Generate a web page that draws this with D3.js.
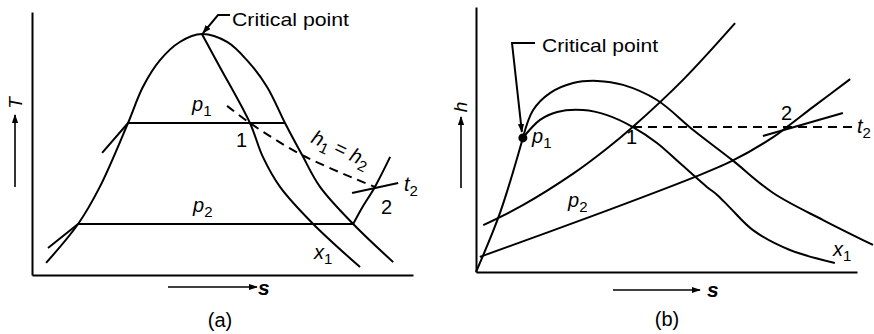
<!DOCTYPE html>
<html>
<head>
<meta charset="utf-8">
<script src="https://cdn.jsdelivr.net/npm/d3@7"></script>
<style>
  body { margin: 0; background: #fff; }
  svg { display: block; }
  text { font-family: "Liberation Sans", Arial, sans-serif; fill: #000; }
  .curve { fill: none; stroke: #000; stroke-width: 2; }
  .dash { stroke-dasharray: 9 6; }
  .axis path { stroke: #000; stroke-width: 2; }
</style>
</head>
<body>
<svg id="chart" width="874" height="334"></svg>
<script>
// ---- (a) T–s diagram: points are [s, T] on a 0–10 schematic scale ----
const domeA      = [[0.37,0.46],[1.21,1.94],[1.78,3.35],[2.52,5.78],[2.91,7.15],[3.36,8.17],[3.88,8.86],[4.46,9.16],
                    [5.12,8.86],[5.64,8.17],[6.17,7.15],[6.64,5.78],[7.09,4.56],[7.56,3.35],[8.43,1.94],[9.48,0.49]];
const qualityA   = [[4.46,9.16],[4.93,7.91],[5.72,5.78],[6.06,4.49],[6.51,3.35],[7.38,1.94],[8.61,0.30]];
const p1A        = [[1.84,4.64],[2.52,5.78],[6.64,5.78]];
const p2A        = [[0.42,1.03],[1.21,1.94],[8.43,1.94],[8.66,2.55],[9.00,3.35],[9.40,4.49]];
const enthalpyA  = [[5.12,6.43],[5.72,5.78],[7.09,4.56],[9.00,3.35]];
const t2A        = [[8.40,3.12],[9.61,3.50]];
const criticalA  = [4.46, 9.16];

// ---- (b) h–s diagram: points are [s, h] on a 0–10 schematic scale ----
const liquidB    = [[0,0],[0.63,2.23],[1.23,5.06]];
const upperB     = [[1.23,5.06],[1.50,6.11],[1.94,6.75],[2.55,7.13],[3.18,7.21],[3.86,7.06],[4.75,6.49],[5.70,5.36],[6.72,4.23],[7.80,2.98],[9.11,1.96],[10.42,1.02]];
const qualityB   = [[1.23,5.06],[1.68,5.74],[2.13,6.04],[2.81,6.11],[3.44,5.92],[4.12,5.47],[4.75,4.87],[5.35,4.11],[6.06,3.21],[6.33,2.91],[6.67,2.42],[7.27,1.58],[8.24,0.83],[9.42,0.34]];
const p1B        = [[0.19,1.77],[1.24,2.53],[2.55,3.71],[3.42,4.64],[4.12,5.48],[5.44,7.26],[6.80,9.39]];
const p2B        = [[0.10,0.57],[2.99,2.08],[5.80,3.62],[6.72,4.19],[7.80,5.09],[8.16,5.47],[8.85,6.23],[9.82,7.28]];
const enthalpyB  = [[4.12,5.47],[9.90,5.47]];
const t2B        = [[7.53,5.13],[9.63,6.00]];
const criticalB  = [1.23, 5.06];

const svg = d3.select("#chart");

svg.append("defs").append("marker")
  .attr("id", "arrow").attr("viewBox", "0 0 10 10")
  .attr("refX", 9).attr("refY", 5)
  .attr("markerWidth", 9).attr("markerHeight", 9)
  .attr("markerUnits", "userSpaceOnUse")
  .attr("orient", "auto")
  .append("path").attr("d", "M0,1.5 L10,5 L0,8.5 Z").attr("fill", "#000");

function panel(xs, ys) {
  const g = svg.append("g");
  g.append("g").attr("class", "axis")
    .attr("transform", `translate(0,${ys.range()[0]})`)
    .call(d3.axisBottom(xs).tickValues([]).tickSizeOuter(0));
  g.append("g").attr("class", "axis")
    .attr("transform", `translate(${xs.range()[0]},0)`)
    .call(d3.axisLeft(ys).tickValues([]).tickSizeOuter(0));
  const line = d3.line().x(d => xs(d[0])).y(d => ys(d[1])).curve(d3.curveCatmullRom.alpha(0.5));
  const straight = d3.line().x(d => xs(d[0])).y(d => ys(d[1]));
  return {
    g,
    curve(data, dashed) {
      g.append("path").attr("class", "curve" + (dashed ? " dash" : "")).attr("d", line(data));
    },
    seg(data, dashed) {
      g.append("path").attr("class", "curve" + (dashed ? " dash" : "")).attr("d", straight(data));
    }
  };
}

// label with italic symbol and upright subscript
function label(g, x, y, sym, sub, opts = {}) {
  const t = g.append("text").attr("x", x).attr("y", y)
    .attr("font-size", opts.size || 20);
  if (opts.rotate != null) t.attr("transform", `rotate(${opts.rotate},${x},${y})`);
  t.append("tspan").attr("font-style", opts.upright ? "normal" : "italic").text(sym);
  if (sub) t.append("tspan").attr("font-size", 15).attr("dy", 5).text(sub);
  return t;
}

function axisArrow(g, x1, y1, x2, y2) {
  g.append("line").attr("x1", x1).attr("y1", y1).attr("x2", x2).attr("y2", y2)
    .attr("stroke", "#000").attr("stroke-width", 1.6).attr("marker-end", "url(#arrow)");
}

// ===== Panel (a) =====
const xA = d3.scaleLinear([0, 10], [32, 413]);
const yA = d3.scaleLinear([0, 10], [275, 12]);
const A = panel(xA, yA);
A.curve(domeA);
A.curve(qualityA);
A.seg(p1A);
A.curve(p2A.slice(2));
A.seg(p2A.slice(0, 3));
A.curve(enthalpyA, true);
A.seg(t2A);

// critical point leader
A.g.append("path").attr("class", "curve").attr("stroke-width", 1.5)
  .attr("d", `M230,15 L218,15 L${xA(criticalA[0]) + 1},${yA(criticalA[1]) - 1}`)
  .attr("marker-end", "url(#arrow)");
A.g.append("text").attr("x", 232).attr("y", 26).attr("font-size", 19)
  .attr("textLength", 117).attr("lengthAdjust", "spacingAndGlyphs").text("Critical point");

label(A.g, 192, 111, "p", "1");
label(A.g, 236, 147, "1", null, { upright: true });
label(A.g, 310, 142, "h", "1", { rotate: 25 }).call(t => {
  t.append("tspan").attr("dy", -5).attr("font-style", "normal").text(" = ");
  t.append("tspan").attr("font-style", "italic").text("h");
  t.append("tspan").attr("font-size", 15).attr("dy", 5).text("2");
});
label(A.g, 404, 191, "t", "2");
label(A.g, 381, 214, "2", null, { upright: true });
label(A.g, 193, 212, "p", "2");
label(A.g, 314, 259, "x", "1");

// axis titles (a)
axisArrow(A.g, 15, 187, 15, 115);
A.g.append("text").attr("font-size", 19).attr("font-style", "italic")
  .attr("transform", "translate(22,103) rotate(-90)").attr("text-anchor", "middle").text("T");
axisArrow(A.g, 168, 287, 257, 287);
A.g.append("text").attr("x", 258).attr("y", 295).attr("font-size", 21)
  .attr("font-style", "italic").attr("font-weight", "bold").text("s");
A.g.append("text").attr("x", 220).attr("y", 327).attr("font-size", 20)
  .attr("text-anchor", "middle").text("(a)");

// ===== Panel (b) =====
const xB = d3.scaleLinear([0, 10], [476, 857]);
const yB = d3.scaleLinear([0, 10], [272, 7]);
const B = panel(xB, yB);
B.curve(liquidB);
B.curve(upperB);
B.curve(qualityB);
B.curve(p1B);
B.curve(p2B);
B.seg(enthalpyB, true);
B.seg(t2B);

B.g.append("circle").attr("cx", xB(criticalB[0])).attr("cy", yB(criticalB[1])).attr("r", 4.5).attr("fill", "#000");
B.g.append("path").attr("class", "curve").attr("stroke-width", 1.5)
  .attr("d", `M535,43 L512,43 L${xB(criticalB[0]) - 1},${yB(criticalB[1]) - 6}`)
  .attr("marker-end", "url(#arrow)");
B.g.append("text").attr("x", 542).attr("y", 52).attr("font-size", 19)
  .attr("textLength", 116).attr("lengthAdjust", "spacingAndGlyphs").text("Critical point");

label(B.g, 532, 143, "p", "1");
label(B.g, 626, 144, "1", null, { upright: true });
label(B.g, 781, 120, "2", null, { upright: true });
label(B.g, 857, 133, "t", "2");
label(B.g, 568, 207, "p", "2");
label(B.g, 833, 256, "x", "1");

// axis titles (b)
axisArrow(B.g, 461, 188, 461, 117);
B.g.append("text").attr("font-size", 19).attr("font-style", "italic")
  .attr("transform", "translate(467,107) rotate(-90)").attr("text-anchor", "middle").text("h");
axisArrow(B.g, 613, 290, 700, 290);
B.g.append("text").attr("x", 707).attr("y", 297).attr("font-size", 21)
  .attr("font-style", "italic").attr("font-weight", "bold").text("s");
B.g.append("text").attr("x", 667).attr("y", 326).attr("font-size", 20)
  .attr("text-anchor", "middle").text("(b)");
</script>
</body>
</html>
